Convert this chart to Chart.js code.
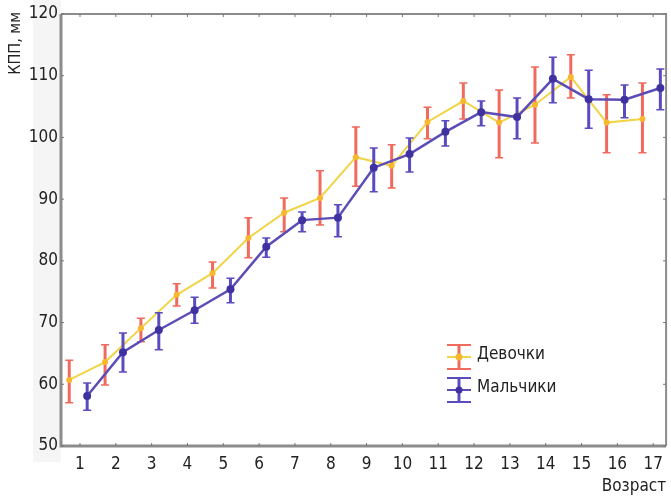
<!DOCTYPE html>
<html>
<head>
<meta charset="utf-8">
<script src="https://cdn.jsdelivr.net/npm/chart.js@4"></script>
<style>
  html, body { margin: 0; padding: 0; background: #fff; }
  #wrap { width: 671px; height: 497px; position: relative; }
</style>
</head>
<body>
<div id="wrap"><canvas id="kppChart"></canvas></div>
<script>
// === DATA ===
const ages = [1, 2, 3, 4, 5, 6, 7, 8, 9, 10, 11, 12, 13, 14, 15, 16, 17];
const yTicks = [50, 60, 70, 80, 90, 100, 110, 120];

// Девочки
const girlsMean = [60.7, 63.6, 69.1, 74.5, 78.0, 83.7, 87.8, 90.2, 96.8, 95.4, 102.5, 105.9, 102.4, 105.3, 109.8, 102.4, 103.0];
const girlsLow  = [57.0, 59.9, 66.9, 72.7, 75.6, 80.5, 84.7, 85.8, 92.1, 91.8, 99.8, 103.0, 96.7, 99.1, 106.4, 97.5, 97.5];
const girlsHigh = [63.9, 66.4, 70.7, 76.3, 79.8, 87.0, 90.2, 94.6, 101.7, 98.8, 104.9, 108.8, 107.7, 111.4, 113.4, 106.9, 108.8];

// Мальчики
const boysMean = [58.1, 65.2, 68.8, 72.0, 75.4, 82.3, 86.6, 87.0, 95.1, 97.3, 100.9, 104.1, 103.3, 109.5, 106.2, 106.1, 108.0];
const boysLow  = [55.8, 62.0, 65.6, 69.9, 73.2, 80.6, 84.7, 83.9, 91.2, 94.4, 98.6, 101.9, 99.8, 105.6, 101.5, 103.2, 104.5];
const boysHigh = [60.2, 68.3, 71.6, 74.1, 77.2, 83.7, 87.9, 89.1, 98.3, 99.9, 102.7, 105.9, 106.4, 113.0, 110.9, 108.5, 111.1];

// small horizontal shift so the two series don't overlap
const GIRLS_SHIFT = -0.3;
const BOYS_SHIFT = 0.2;

const FONT = "'DejaVu Sans Condensed', 'DejaVu Sans', sans-serif";
const TEXT = '#222';

// === ERROR BARS ===
const errorBars = {
  id: 'errorBars',
  beforeDatasetDraw(chart, args) {
    const ds = chart.data.datasets[args.index];
    if (!ds.errLow) return;
    const { ctx, scales: { x, y } } = chart;
    ctx.save();
    ctx.strokeStyle = ds.errColor;
    ds.data.forEach((p, i) => {
      const px = x.getPixelForValue(p.x);
      const top = y.getPixelForValue(ds.errHigh[i]);
      const bot = y.getPixelForValue(ds.errLow[i]);
      ctx.lineWidth = 3;
      ctx.beginPath();
      ctx.moveTo(px, top);
      ctx.lineTo(px, bot);
      ctx.stroke();
      ctx.lineWidth = 1.5;
      ctx.beginPath();
      ctx.moveTo(px - 4, top); ctx.lineTo(px + 4, top);
      ctx.moveTo(px - 4, bot); ctx.lineTo(px + 4, bot);
      ctx.stroke();
    });
    ctx.restore();
  }
};

// === FRAME + LEGEND + Y TITLE ===
const frame = {
  id: 'frame',
  beforeDraw(chart) {
    const { ctx, chartArea: a } = chart;
    ctx.save();
    ctx.fillStyle = '#f5f5f5';
    ctx.fillRect(33, 0, a.left - 33, a.bottom + 16);
    ctx.fillStyle = '#fff';
    ctx.fillRect(a.left, a.top, a.right - a.left, a.bottom - a.top);
    ctx.restore();
  },
  afterDraw(chart) {
    const { ctx, chartArea: a, scales: { x, y } } = chart;
    ctx.save();
    ctx.strokeStyle = '#8c8c8c';
    ctx.lineWidth = 3;
    ctx.beginPath();
    ctx.moveTo(a.left, a.top); ctx.lineTo(a.left, a.bottom); ctx.lineTo(a.right, a.bottom);
    ctx.stroke();
    ctx.lineWidth = 2;
    ctx.beginPath();
    ctx.moveTo(a.left, a.top); ctx.lineTo(a.right, a.top); ctx.lineTo(a.right, a.bottom);
    ctx.stroke();

    // tiny tick marks
    ctx.strokeStyle = '#777';
    ctx.lineWidth = 1;
    ctx.beginPath();
    ages.forEach(v => {
      const px = x.getPixelForValue(v);
      ctx.moveTo(px, a.top); ctx.lineTo(px, a.top + 3);
      ctx.moveTo(px, a.bottom); ctx.lineTo(px, a.bottom - 3);
    });
    yTicks.forEach(v => {
      const py = y.getPixelForValue(v);
      ctx.moveTo(a.left, py); ctx.lineTo(a.left + 3, py);
      ctx.moveTo(a.right, py); ctx.lineTo(a.right - 3, py);
    });
    ctx.stroke();

    // y axis title, top-aligned like the original
    ctx.save();
    ctx.translate(16, 12);
    ctx.rotate(-Math.PI / 2);
    ctx.fillStyle = TEXT;
    ctx.font = '16px ' + FONT;
    ctx.textAlign = 'right';
    ctx.textBaseline = 'middle';
    ctx.fillText('КПП, мм', 0, 0);
    ctx.restore();

    // legend
    const items = [
      { label: 'Девочки', err: '#f06a5e', line: '#f2d447', dot: '#f5b82e', y: 357 },
      { label: 'Мальчики', err: '#5a4cc0', line: '#5b4db5', dot: '#3f32a0', y: 390 }
    ];
    const cx = 459;
    items.forEach(it => {
      ctx.strokeStyle = it.err;
      ctx.lineWidth = 3;
      ctx.beginPath();
      ctx.moveTo(cx, it.y - 12); ctx.lineTo(cx, it.y + 12);
      ctx.stroke();
      ctx.lineWidth = 2;
      ctx.beginPath();
      ctx.moveTo(cx - 12, it.y - 12); ctx.lineTo(cx + 12, it.y - 12);
      ctx.moveTo(cx - 12, it.y + 12); ctx.lineTo(cx + 12, it.y + 12);
      ctx.stroke();
      ctx.strokeStyle = it.line;
      ctx.beginPath();
      ctx.moveTo(cx - 12, it.y); ctx.lineTo(cx + 12, it.y);
      ctx.stroke();
      ctx.fillStyle = it.dot;
      ctx.beginPath();
      ctx.arc(cx, it.y, 3.5, 0, Math.PI * 2);
      ctx.fill();
      ctx.fillStyle = TEXT;
      ctx.font = '17px ' + FONT;
      ctx.textBaseline = 'middle';
      ctx.textAlign = 'left';
      ctx.fillText(it.label, 477, it.y - 2);
    });
    ctx.restore();
  }
};

const ctx = document.getElementById('kppChart').getContext('2d');

new Chart(ctx, {
  type: 'line',
  data: {
    datasets: [
      {
        label: 'Девочки',
        data: ages.map((a, i) => ({ x: a + GIRLS_SHIFT, y: girlsMean[i] })),
        errLow: girlsLow,
        errHigh: girlsHigh,
        errColor: '#f06a5e',
        borderColor: '#f2d447',
        borderWidth: 2,
        pointRadius: 3,
        pointBackgroundColor: '#f5b82e',
        pointBorderWidth: 0,
        tension: 0,
        order: 2
      },
      {
        label: 'Мальчики',
        data: ages.map((a, i) => ({ x: a + BOYS_SHIFT, y: boysMean[i] })),
        errLow: boysLow,
        errHigh: boysHigh,
        errColor: '#5a4cc0',
        borderColor: '#5b4db5',
        borderWidth: 2.5,
        pointRadius: 4,
        pointBackgroundColor: '#3f32a0',
        pointBorderWidth: 0,
        tension: 0,
        order: 1
      }
    ]
  },
  options: {
    responsive: true,
    maintainAspectRatio: false,
    animation: false,
    layout: { padding: { top: 14, right: 3, left: 0, bottom: 0 } },
    plugins: {
      legend: { display: false },
      tooltip: { enabled: false }
    },
    scales: {
      x: {
        type: 'linear',
        min: 0.47,
        max: 17.36,
        afterBuildTicks: s => { s.ticks = ages.map(v => ({ value: v })); },
        afterFit: s => { s.height = 51; },
        grid: { display: false, drawTicks: false },
        border: { display: false },
        ticks: { color: TEXT, font: { family: FONT, size: 17 }, padding: 8, maxRotation: 0, autoSkip: false },
        title: {
          display: true, text: 'Возраст', align: 'end',
          color: TEXT, font: { family: FONT, size: 17 }, padding: { top: 0, bottom: 0 }
        }
      },
      y: {
        min: 50,
        max: 120,
        afterBuildTicks: s => { s.ticks = yTicks.map(v => ({ value: v })); },
        afterFit: s => { s.width = 61; },
        grid: { display: false, drawTicks: false },
        border: { display: false },
        ticks: { color: TEXT, font: { family: FONT, size: 17 }, padding: 3 }
      }
    }
  },
  plugins: [errorBars, frame]
});
</script>
</body>
</html>
